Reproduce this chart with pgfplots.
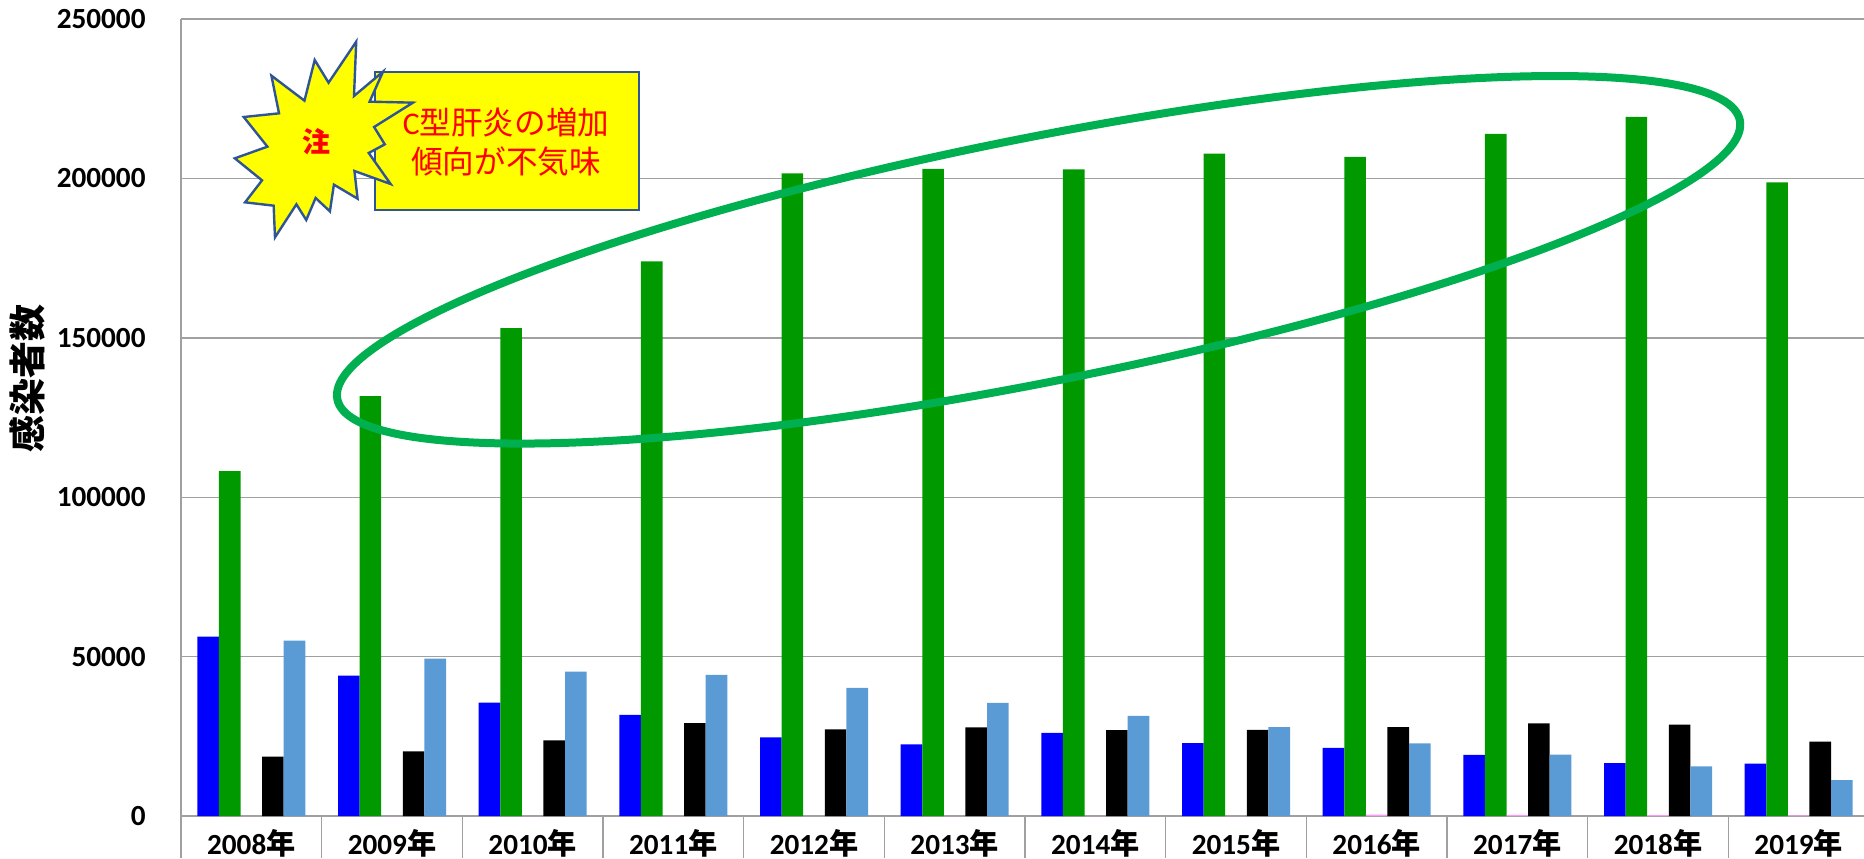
\documentclass[border=0pt]{standalone}
\usepackage{fontspec}
\setmainfont{Carlito}
\newfontfamily\cjk{Noto Sans CJK JP}
\usepackage{pgfplots}
\usepackage{pgfplotstable}
\pgfplotsset{compat=1.18}
\definecolor{cblue}{HTML}{0000FF}
\definecolor{cgreen}{HTML}{009900}
\definecolor{cpink}{HTML}{FF99FF}
\definecolor{clight}{HTML}{5B9BD5}
\definecolor{cring}{HTML}{00B050}
\definecolor{cedge}{HTML}{2F5597}
\definecolor{cgrid}{HTML}{A0A0A0}
\definecolor{cyel}{HTML}{FFFF00}
\definecolor{cred}{HTML}{FF0000}
\pgfplotstableread{
x b g p k l
0.5 56250 108200 0 18650 55000
1.5 44060 131700 0 20300 49400
2.5 35600 153000 0 23750 45300
3.5 31750 173950 0 29100 44250
4.5 24640 201560 0 27140 40200
5.5 22450 203020 0 27770 35500
6.5 26100 202800 0 26930 31420
7.5 22860 207800 0 27040 27870
8.5 21400 206770 400 27900 22800
9.5 19170 213960 350 29060 19270
10.5 16560 219270 300 28650 15600
11.5 16460 198750 200 23330 11250
}\data
\newcommand{\yr}[1]{#1{\cjk 年}}
\begin{document}
\begin{tikzpicture}
\path[use as bounding box] (0,0) rectangle (932pt,429pt);
\begin{axis}[
  at={(90.5pt,21pt)}, anchor=south west,
  scale only axis, width=844pt, height=398.5pt,
  xmin=0, xmax=12, ymin=0, ymax=250000,
  axis x line=bottom, axis y line=left,
  axis line style={cgrid, line width=0.8pt, -},
  ybar=0pt, bar width=10.8pt,
  ytick={0,50000,...,250000},
  scaled y ticks=false,
  ymajorgrids, grid style={cgrid, line width=0.7pt},
  xtick={0,1,...,12}, xticklabels={},
  tick align=outside,
  x tick style={cgrid, line width=0.7pt},
  y tick style={draw=none},
  major tick length=21pt,
  ytick style={/pgfplots/major tick length=0pt},
  extra x ticks={0.5,1.5,2.5,3.5,4.5,5.5,6.5,7.5,8.5,9.5,10.5,11.5},
  extra x tick labels={\yr{2008},\yr{2009},\yr{2010},\yr{2011},\yr{2012},\yr{2013},\yr{2014},\yr{2015},\yr{2016},\yr{2017},\yr{2018},\yr{2019}},
  extra x tick style={major tick length=0pt, grid=none, tick style={draw=none}, tick label style={anchor=center, yshift=-13.5pt}},
  /pgf/number format/assume math mode=true,
  /pgf/number format/fixed,
  /pgf/number format/1000 sep={},
  tick label style={font=\fontsize{14.6}{16}\selectfont\bfseries},
  yticklabel style={xshift=6.8pt},
  clip=false,
]
\addplot[fill=cblue, draw=none] table[x=x,y=b] {\data};
\addplot[fill=cgreen, draw=none] table[x=x,y=g] {\data};
\addplot[fill=cpink, draw=none] table[x=x,y=p] {\data};
\addplot[fill=black, draw=none] table[x=x,y=k] {\data};
\addplot[fill=clight, draw=none] table[x=x,y=l] {\data};
\end{axis}
\node[rotate=90, font=\fontsize{18.5}{21}\selectfont\cjk\bfseries] at (13.5pt,239.5pt) {感染者数};
\draw[cring, line width=4pt, rotate around={11.25:(519.3pt,299.1pt)}] (519.3pt,299.1pt) ellipse (357.5pt and 61pt);
\draw[cedge, line width=1.3pt, fill=cyel] (187.5pt,393pt) rectangle (319.5pt,324pt);
\node[cred, font=\fontsize{15.8}{19}\selectfont\cjk] at (253pt,367.8pt) {\fontspec{Carlito}C\cjk 型肝炎の増加};
\node[cred, font=\fontsize{15.8}{19}\selectfont\cjk] at (253pt,348.3pt) {傾向が不気味};
\begin{scope}[shift={(0pt,429pt)}, x=0.2232pt, y=-0.16667pt]
\draw[cedge, line width=1.2pt, fill=cyel, line join=miter]
 (798,125)--(793,288)--(858,215)--(828,305)--(925,308)--(838,381)--(862,433)--(826,459)--(875,552)--(794,513)--(801,596)--(748,554)--(739,634)--(707,594)--(686,660)--(664,613)--(616,712)--(613,617)--(549,607)--(587,541)--(526,475)--(599,440)--(546,351)--(625,340)--(608,227)--(682,302)--(705,180)--(736,248)--cycle;
\node[cred, font=\fontsize{14}{16}\selectfont\cjk\bfseries] at (710,425) {注};
\end{scope}
\end{tikzpicture}
\end{document}
